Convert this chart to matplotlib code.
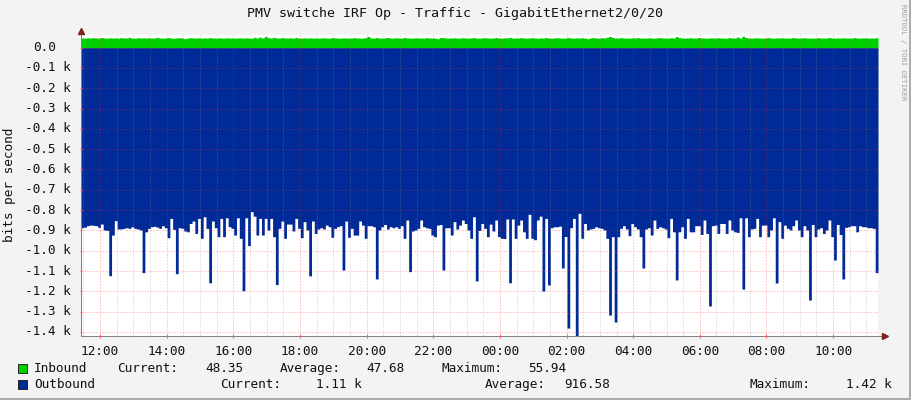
import numpy as np
import matplotlib
matplotlib.use("Agg")
import matplotlib.pyplot as plt
from matplotlib.transforms import blended_transform_factory

# 5 minute samples, 11:26 -> 11:21 next day
title = "PMV switche IRF Op - Traffic - GigabitEthernet2/0/20"
start_hour = 11.43
step_hour = 5 / 60.0

inbound = [
    47.2, 46.5, 47.8, 47.1, 48.9, 47.5, 47.0, 49.6, 47.3, 46.8, 48.2, 47.4,
    47.9, 46.9, 49.1, 47.2, 47.6, 50.3, 47.0, 46.4, 48.8, 47.3, 47.7, 47.1,
    48.5, 46.9, 47.4, 50.1, 47.2, 46.7, 47.9, 49.4, 47.0, 46.2, 47.6, 48.7,
    47.3, 43.9, 46.8, 49.0, 47.5, 47.1, 48.3, 46.9, 47.6, 47.0, 49.2, 47.4,
    46.8, 47.9, 47.2, 46.5, 48.1, 47.3, 47.6, 46.9, 47.4, 48.0, 47.1, 47.5,
    47.0, 46.6, 50.4, 47.3, 51.2, 47.5, 54.8, 49.0, 47.2, 50.6, 47.4, 46.9,
    49.5, 47.3, 47.0, 48.2, 46.8, 49.8, 47.5, 46.4, 48.0, 47.1, 47.6, 46.9,
    47.4, 46.8, 47.2, 48.5, 47.0, 46.3, 49.4, 47.5, 47.1, 46.7, 47.8, 47.2,
    46.9, 47.5, 49.1, 47.3, 46.6, 47.0, 48.6, 54.5, 47.4, 47.0, 49.3, 47.2,
    46.8, 47.6, 49.5, 47.1, 46.9, 48.2, 47.4, 46.6, 49.7, 47.3, 47.0, 46.8,
    48.4, 47.2, 47.6, 46.9, 49.0, 47.4, 47.1, 46.5, 43.6, 48.9, 49.6, 47.2,
    46.9, 47.5, 48.1, 47.0, 46.7, 48.8, 47.3, 46.9, 47.6, 49.2, 47.0, 46.8,
    47.4, 48.7, 47.1, 46.9, 47.5, 49.3, 47.2, 46.6, 48.0, 47.4, 50.2, 47.1,
    46.8, 47.6, 49.0, 47.2, 46.9, 47.3, 48.6, 47.0, 46.4, 47.8, 47.2, 49.5,
    47.0, 46.8, 47.5, 48.9, 47.3, 46.7, 47.1, 49.2, 47.4, 46.9, 47.6, 47.2,
    48.3, 46.8, 43.8, 47.5, 49.4, 47.1, 46.9, 48.5, 47.3, 51.0, 54.6, 49.8,
    47.2, 46.9, 48.8, 47.4, 47.0, 46.6, 47.9, 47.3, 49.1, 47.0, 46.8, 47.5,
    48.2, 47.1, 46.9, 47.6, 49.0, 47.3, 47.0, 46.7, 48.4, 47.2, 54.3, 49.7,
    47.1, 46.8, 47.5, 48.8, 47.0, 46.9, 49.6, 47.3, 47.1, 46.6, 47.8, 47.4,
    46.9, 48.5, 47.2, 47.0, 46.7, 49.2, 47.4, 47.1, 51.4, 47.3, 55.94, 49.6,
    47.0, 46.8, 47.4, 48.6, 47.2, 46.9, 47.5, 49.0, 47.1, 46.7, 47.6, 47.3,
    48.3, 47.0, 46.8, 47.4, 49.5, 47.2, 46.9, 47.7, 48.1, 47.0, 46.6, 47.4,
    47.1, 48.8, 47.3, 46.9, 47.5, 49.3, 47.1, 46.8, 47.6, 47.0, 48.2, 47.4,
    47.2, 46.9, 49.1, 47.3, 47.0, 47.6, 48.0, 47.2, 47.4, 46.9, 48.35,
]

outbound = [
    887, 884, 877, 874, 875, 877, 885, 869, 898, 900, 1123, 923,
    852, 893, 893, 890, 887, 890, 882, 890, 893, 898, 1108, 907,
    890, 882, 880, 884, 890, 877, 887, 936, 841, 895, 1113, 887,
    890, 903, 907, 866, 854, 915, 841, 939, 833, 890, 1158, 854,
    887, 931, 841, 931, 838, 882, 890, 923, 838, 939, 1197, 838,
    975, 808, 830, 923, 841, 923, 841, 898, 841, 931, 1167, 890,
    854, 939, 869, 869, 903, 841, 890, 936, 857, 898, 1124, 854,
    915, 893, 887, 893, 874, 882, 934, 890, 882, 877, 1095, 854,
    934, 890, 923, 923, 854, 874, 939, 877, 877, 882, 1139, 898,
    882, 871, 893, 882, 887, 882, 890, 877, 939, 849, 1103, 903,
    898, 890, 849, 882, 887, 890, 923, 931, 874, 871, 1095, 887,
    887, 923, 857, 893, 874, 849, 866, 898, 939, 833, 1149, 900,
    866, 890, 931, 869, 903, 849, 931, 939, 940, 844, 1158, 844,
    939, 874, 849, 907, 939, 821, 939, 946, 849, 830, 1199, 841,
    1169, 887, 882, 882, 879, 1085, 930, 1381, 887, 841, 1420, 816,
    939, 866, 898, 893, 890, 882, 887, 890, 898, 939, 1317, 931,
    1351, 931, 890, 877, 893, 926, 866, 882, 893, 931, 1085, 893,
    887, 923, 849, 890, 882, 887, 893, 936, 841, 907, 1144, 907,
    882, 939, 841, 907, 907, 877, 877, 920, 849, 915, 1272, 877,
    874, 915, 866, 866, 915, 849, 898, 907, 910, 838, 1189, 838,
    931, 893, 890, 841, 931, 874, 874, 931, 898, 838, 1159, 857,
    939, 874, 890, 898, 877, 849, 898, 931, 877, 898, 1243, 871,
    931, 893, 887, 915, 898, 849, 931, 1046, 871, 920, 1139, 885,
    882, 877, 877, 907, 877, 882, 882, 887, 887, 890, 1108,
]

hour_ticks = [12, 14, 16, 18, 20, 22, 24, 26, 28, 30, 32, 34]
hour_labels = ["12:00", "14:00", "16:00", "18:00", "20:00", "22:00",
               "00:00", "02:00", "04:00", "06:00", "08:00", "10:00"]
y_ticks = [0, -100, -200, -300, -400, -500, -600, -700, -800, -900,
           -1000, -1100, -1200, -1300, -1400]
y_labels = ["0.0", "-0.1 k", "-0.2 k", "-0.3 k", "-0.4 k", "-0.5 k", "-0.6 k",
            "-0.7 k", "-0.8 k", "-0.9 k", "-1.0 k", "-1.1 k", "-1.2 k",
            "-1.3 k", "-1.4 k"]

legend_rows = [
    ("#00CF00", "Inbound", [("Current:", 117), ("48.35", 205), ("Average:", 280),
                           ("47.68", 366), ("Maximum:", 441), ("55.94", 528)]),
    ("#002A97", "Outbound", [("Current:", 220), ("1.11 k", 316), ("Average:", 485),
                            ("916.58", 564), ("Maximum:", 750), ("1.42 k", 846)]),
]

W, H = 911, 400
MONO = "DejaVu Sans Mono"
plt.rcParams["font.family"] = MONO


def fx(x):
    return x / W


def fy(y):
    return 1 - y / H


fig = plt.figure(figsize=(W / 100, H / 100), dpi=100, facecolor="#F3F3F3")
# plot area 81..878 x 35..336 px
ax = fig.add_axes([fx(81), fy(336), (878 - 81) / W, (336 - 35) / H])
ax.set_facecolor("white")

n = len(outbound)
edges = start_hour + np.arange(n + 1) * step_hour
out_neg = -np.array(outbound, dtype=float)
inb = np.array(inbound, dtype=float)
ax.fill_between(edges, 0, np.append(out_neg, out_neg[-1]), step="post",
                color="#002A97", lw=0, zorder=1)
ax.fill_between(edges, 0, np.append(inb, inb[-1]), step="post",
                color="#00CF00", lw=0, zorder=1)

ax.set_xlim(edges[0], edges[-1])
ax.set_ylim(-1420, 62)

ax.set_xticks(hour_ticks)
ax.set_xticklabels(hour_labels)
ax.set_xticks(np.arange(11.5, edges[-1], 0.5), minor=True)
ax.set_yticks(y_ticks)
ax.set_yticklabels([])
ax.set_axisbelow(False)
ax.grid(which="minor", axis="x", color="#909090", alpha=0.45, lw=0.72,
        linestyle=(0, (1, 2)))
ax.grid(which="major", axis="both", color="#FF3030", alpha=0.45, lw=0.72,
        linestyle=(0, (1, 2)))
ax.tick_params(axis="x", which="major", length=3, color="#FF6060",
               direction="inout", labelsize=9.2, pad=5, labelcolor="#111111")
ax.tick_params(axis="x", which="minor", length=1.5, color="#A0A0A0", direction="inout")
ax.tick_params(axis="y", length=2, color="#FF6060", direction="inout")

for s in ["top", "right"]:
    ax.spines[s].set_visible(False)
for s in ["left", "bottom"]:
    ax.spines[s].set_color("#808080")
    ax.spines[s].set_linewidth(0.72)

# axis extensions with arrow heads
ax.plot([1.0, 1.008], [0, 0], transform=ax.transAxes, color="#808080",
        lw=0.72, clip_on=False)
ax.plot([0, 0], [1.0, 1.01], transform=ax.transAxes, color="#808080",
        lw=0.72, clip_on=False)
ax.plot([1.009], [0], marker=">", ms=4.5, color="#802020",
        transform=ax.transAxes, clip_on=False)
ax.plot([0], [1.013], marker="^", ms=4.5, color="#802020",
        transform=ax.transAxes, clip_on=False)

# y labels, right aligned in monospace like rrdtool
trans = blended_transform_factory(fig.transFigure, ax.transData)
for v, lab in zip(y_ticks, y_labels):
    xr = fx(71) if lab.endswith("k") else fx(56.5)
    ax.text(xr, v, lab, transform=trans, ha="right", va="center",
            fontsize=9.2, color="#111111")

fig.text(fx(455), fy(14), title, ha="center", va="center", fontsize=9.6,
         color="#111111")
fig.text(fx(10), fy(185), "bits per second", rotation=90, ha="center",
         va="center", fontsize=9.2, color="#111111")
fig.text(fx(903), fy(52), "RRDTOOL / TOBI OETIKER", rotation=-90, ha="center",
         va="center", fontsize=5.2, color="#A0A0A0")

for k, (col, name, parts) in enumerate(legend_rows):
    yc = 368.5 + k * 16
    fig.patches.append(plt.Rectangle((fx(17.5), fy(yc + 4.5)), 9.5 / W, 9 / H,
                                     transform=fig.transFigure, facecolor=col,
                                     edgecolor="#222222", lw=0.7))
    fig.text(fx(34), fy(yc), name, ha="left", va="center", fontsize=9.2,
             color="#111111")
    for txt, xp in parts:
        fig.text(fx(xp), fy(yc), txt, ha="left", va="center", fontsize=9.2,
                 color="#111111")

# frame shading
fig.patches.append(plt.Rectangle((0, 0), 1, 2 / H, transform=fig.transFigure,
                                 facecolor="#ABABAB", lw=0))
fig.patches.append(plt.Rectangle((1 - 2 / W, 0), 2 / W, 1, transform=fig.transFigure,
                                 facecolor="#ABABAB", lw=0))

fig.savefig("out.png", dpi=100, facecolor=fig.get_facecolor())
